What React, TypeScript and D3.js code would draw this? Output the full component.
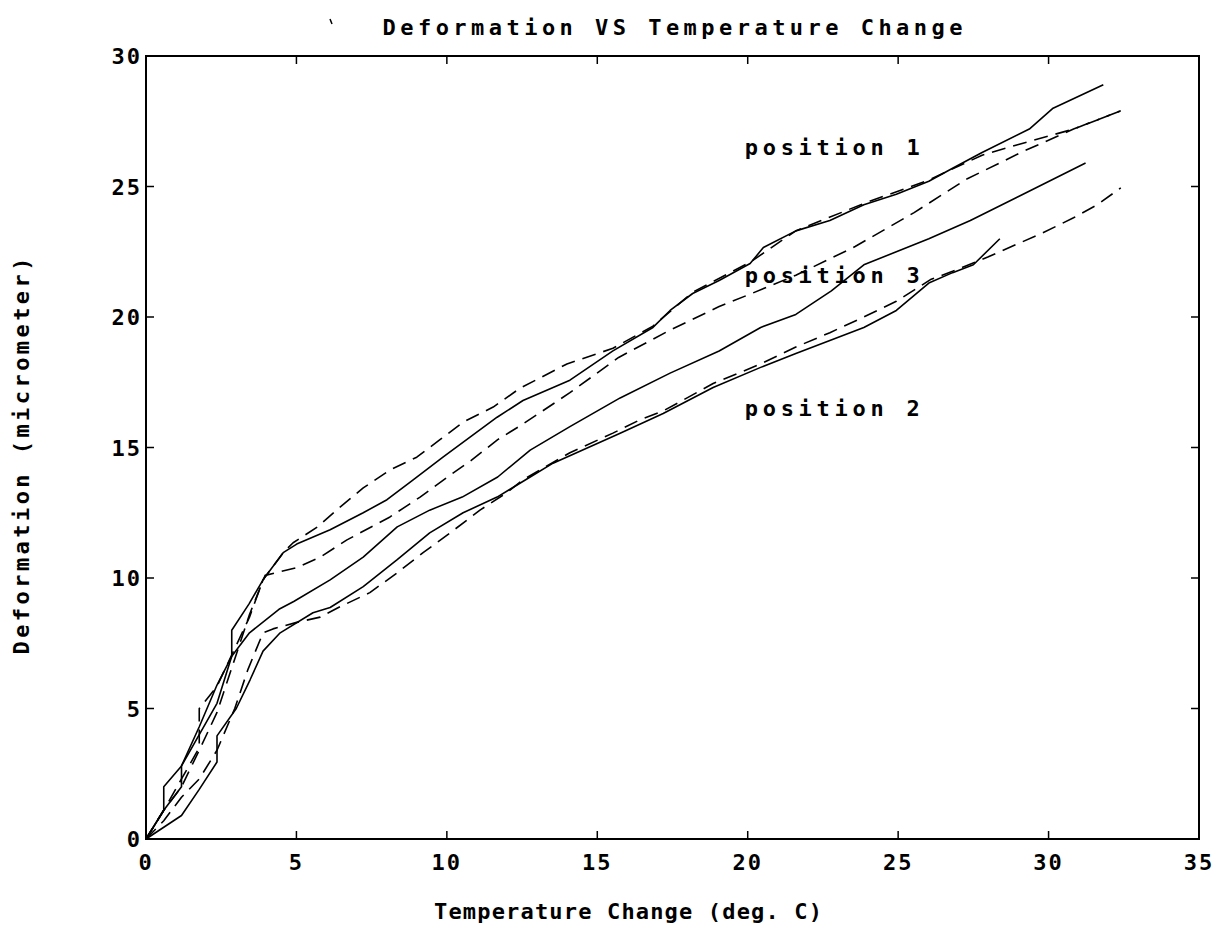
import React from 'react';
import * as d3 from 'd3';

type Pt = [number, number];

const xTickValues = [0, 5, 10, 15, 20, 25, 30, 35];
const yTickValues = [0, 5, 10, 15, 20, 25, 30];

const titleText = 'Deformation VS Temperature Change';
const xLabelText = 'Temperature Change (deg. C)';
const yLabelText = 'Deformation (micrometer)';

// solid, upper
const solidTop: Pt[] = [
  [0, 0], [0.59, 1.1], [0.59, 2], [1.18, 2.8], [1.77, 4.0], [2.36, 5.2], [2.85, 7], [2.85, 8],
  [3.42, 9.0], [3.89, 9.93], [4.56, 10.97], [5.01, 11.3], [6.12, 11.85], [7.22, 12.5], [8.01, 13.0],
  [8.88, 13.76], [9.87, 14.63], [10.77, 15.4], [11.67, 16.16], [12.53, 16.8], [14.09, 17.58],
  [15.52, 18.7], [16.85, 19.6], [17.42, 20.25], [18.17, 20.9], [19.05, 21.4], [20.08, 22.05],
  [20.52, 22.66], [21.6, 23.3], [22.73, 23.7], [23.86, 24.3], [24.94, 24.7], [26.02, 25.2],
  [26.81, 25.7], [27.79, 26.3], [29.36, 27.2], [30.15, 28.0], [31.82, 28.9],
];

// dashed, upper
const dashedTop: Pt[] = [
  [0, 0], [0.59, 1.1], [1.18, 2.3], [1.77, 3.5], [1.77, 5.0], [2.36, 5.85], [2.95, 7.3], [3.44, 8.5],
  [3.89, 9.93], [4.56, 10.97], [4.89, 11.35], [5.7, 11.96], [6.45, 12.72], [7.22, 13.45], [8.11, 14.14],
  [9.0, 14.63], [9.77, 15.3], [10.54, 15.97], [11.54, 16.55], [12.43, 17.27], [13.99, 18.2],
  [15.52, 18.8], [16.85, 19.65], [18.17, 20.95], [20.08, 22.1], [21.6, 23.3], [23.86, 24.35],
  [26.02, 25.25], [27.79, 26.2], [28.97, 26.6], [30.83, 27.2], [32.4, 27.9],
];

// dashed, middle
const dashedMid: Pt[] = [
  [0, 0], [0.59, 1.1], [1.18, 2.0], [1.77, 3.4], [2.36, 4.85], [2.95, 6.9], [3.44, 8.6], [3.96, 10.1],
  [5.01, 10.4], [5.79, 10.8], [6.68, 11.46], [8.11, 12.34], [9.11, 13.1], [10.02, 13.87], [10.8, 14.5],
  [11.69, 15.3], [12.53, 15.9], [14.09, 17.1], [15.71, 18.45], [17.42, 19.5], [19.05, 20.4],
  [20.13, 20.9], [21.6, 21.6], [23.57, 22.7], [25.53, 24.0], [27.3, 25.3], [28.38, 25.9],
  [29.07, 26.3], [30.83, 27.2], [32.4, 27.9],
];

// solid, middle
const solidMid: Pt[] = [
  [0, 0], [0.59, 1.1], [1.18, 2.0], [1.18, 2.8], [1.77, 4.3], [2.36, 5.9], [2.85, 7.0], [3.44, 7.9],
  [4.42, 8.8], [4.91, 9.1], [6.12, 9.93], [7.22, 10.8], [8.35, 11.96], [9.43, 12.6], [10.51, 13.1],
  [11.69, 13.87], [12.77, 14.9], [14.09, 15.8], [15.76, 16.9], [17.42, 17.85], [19.05, 18.7],
  [20.43, 19.6], [21.6, 20.1], [22.78, 21.0], [23.86, 22.0], [24.94, 22.5], [26.02, 23.0],
  [27.4, 23.7], [28.97, 24.6], [31.23, 25.9],
];

// solid, lower
const solidBottom: Pt[] = [
  [0, 0], [1.18, 0.9], [1.77, 1.9], [2.36, 2.95], [2.36, 3.95], [3.0, 5.0], [3.46, 6.1], [3.89, 7.2],
  [4.46, 7.9], [5.55, 8.67], [6.12, 8.87], [7.22, 9.67], [8.35, 10.7], [9.43, 11.73], [10.54, 12.5],
  [11.67, 13.1], [12.77, 13.87], [13.53, 14.4], [15.76, 15.55], [17.19, 16.3], [18.85, 17.3],
  [20.43, 18.07], [21.6, 18.6], [22.73, 19.1], [23.86, 19.6], [24.94, 20.25], [26.02, 21.3],
  [26.81, 21.7], [27.5, 22.0], [28.38, 23.0],
];

// dashed, lower
const dashedBottom: Pt[] = [
  [0, 0], [0.59, 0.7], [1.18, 1.6], [1.77, 2.3], [2.36, 3.4], [2.95, 5.0], [3.39, 6.5], [3.89, 7.9],
  [4.22, 8.05], [5.01, 8.3], [5.79, 8.5], [6.45, 8.9], [7.44, 9.44], [8.35, 10.2], [9.21, 10.97],
  [10.11, 11.73], [11.1, 12.6], [11.98, 13.26], [12.53, 13.76], [14.09, 14.8], [15.52, 15.55],
  [16.4, 16.05], [17.19, 16.4], [18.85, 17.45], [20.43, 18.2], [21.6, 18.85], [22.73, 19.4],
  [23.86, 20.0], [24.94, 20.6], [26.1, 21.45], [26.81, 21.75], [27.98, 22.3], [28.97, 22.8],
  [29.76, 23.2], [30.83, 23.8], [31.62, 24.3], [32.4, 24.95],
];

const seriesList = [
  { name: 'solidTop', data: solidTop, dashed: false },
  { name: 'dashedTop', data: dashedTop, dashed: true },
  { name: 'dashedMid', data: dashedMid, dashed: true },
  { name: 'solidMid', data: solidMid, dashed: false },
  { name: 'solidBottom', data: solidBottom, dashed: false },
  { name: 'dashedBottom', data: dashedBottom, dashed: true },
];

const positionLabels = ['position 1', 'position 3', 'position 2'];
const positionLabelX = [19.9, 19.9, 19.9];
const positionLabelY = [26.5, 21.6, 16.5];

const FONT = '"DejaVu Sans Mono", "Liberation Mono", monospace';

export default function App() {
  const W = 1225;
  const H = 940;
  const x = d3.scaleLinear().domain([0, 35]).range([146, 1199]);
  const y = d3.scaleLinear().domain([0, 30]).range([839, 56]);
  const line = d3
    .line<Pt>()
    .x((d) => x(d[0]))
    .y((d) => y(d[1]));

  const x0 = x(0), x1 = x(35), y0 = y(0), y1 = y(30);
  const tickLen = 8;
  const fs = 22;

  return (
    <svg
      width={W}
      height={H}
      viewBox={`0 0 ${W} ${H}`}
      style={{ position: 'absolute', left: 0, top: 0, background: '#fff' }}
    >
      <rect x={0} y={0} width={W} height={H} fill="#fff" />
      {/* title */}
      <text
        x={(x0 + x1) / 2}
        y={35}
        textAnchor="middle"
        fontFamily={FONT}
        fontWeight="bold"
        fontSize={fs}
        textLength={580}
        lengthAdjust="spacing"
        fill="#000"
      >
        {titleText}
      </text>
      <line x1={330} y1={19} x2={332} y2={24} stroke="#000" strokeWidth={1.5} />

      {/* frame */}
      <rect x={x0} y={y1} width={x1 - x0} height={y0 - y1} fill="none" stroke="#000" strokeWidth={2} />

      {/* x ticks */}
      {xTickValues.map((t) => (
        <g key={'xt' + t}>
          <line x1={x(t)} x2={x(t)} y1={y0} y2={y0 - tickLen} stroke="#000" strokeWidth={1.5} />
          <line x1={x(t)} x2={x(t)} y1={y1} y2={y1 + tickLen} stroke="#000" strokeWidth={1.5} />
          <text
            x={x(t)}
            y={y0 + 31}
            textAnchor="middle"
            fontFamily={FONT}
            fontWeight="bold"
            fontSize={fs}
            letterSpacing={2}
            fill="#000"
          >
            {String(t)}
          </text>
        </g>
      ))}

      {/* y ticks */}
      {yTickValues.map((t) => (
        <g key={'yt' + t}>
          <line x1={x0} x2={x0 + tickLen} y1={y(t)} y2={y(t)} stroke="#000" strokeWidth={1.5} />
          <line x1={x1} x2={x1 - tickLen} y1={y(t)} y2={y(t)} stroke="#000" strokeWidth={1.5} />
          <text
            x={x0 - 4}
            y={y(t) + 8}
            textAnchor="end"
            fontFamily={FONT}
            fontWeight="bold"
            fontSize={fs}
            letterSpacing={2}
            fill="#000"
          >
            {String(t)}
          </text>
        </g>
      ))}

      {/* series */}
      {seriesList.map((s) => (
        <path
          key={s.name}
          d={line(s.data) || ''}
          fill="none"
          stroke="#000"
          strokeWidth={1.6}
          strokeDasharray={s.dashed ? '14,8' : undefined}
          strokeLinejoin="round"
        />
      ))}

      {/* position labels */}
      {positionLabels.map((lab, i) => (
        <text
          key={lab}
          x={x(positionLabelX[i])}
          y={y(positionLabelY[i]) + 8}
          fontFamily={FONT}
          fontWeight="bold"
          fontSize={fs}
          textLength={175}
          lengthAdjust="spacing"
          fill="#000"
        >
          {lab}
        </text>
      ))}

      {/* x label */}
      <text
        x={628}
        y={919}
        textAnchor="middle"
        fontFamily={FONT}
        fontWeight="bold"
        fontSize={fs}
        textLength={388}
        lengthAdjust="spacing"
        fill="#000"
      >
        {xLabelText}
      </text>

      {/* y label */}
      <text
        transform={`translate(29, 456) rotate(-90)`}
        x={0}
        y={0}
        textAnchor="middle"
        fontFamily={FONT}
        fontWeight="bold"
        fontSize={fs}
        textLength={397}
        lengthAdjust="spacing"
        fill="#000"
      >
        {yLabelText}
      </text>
    </svg>
  );
}
